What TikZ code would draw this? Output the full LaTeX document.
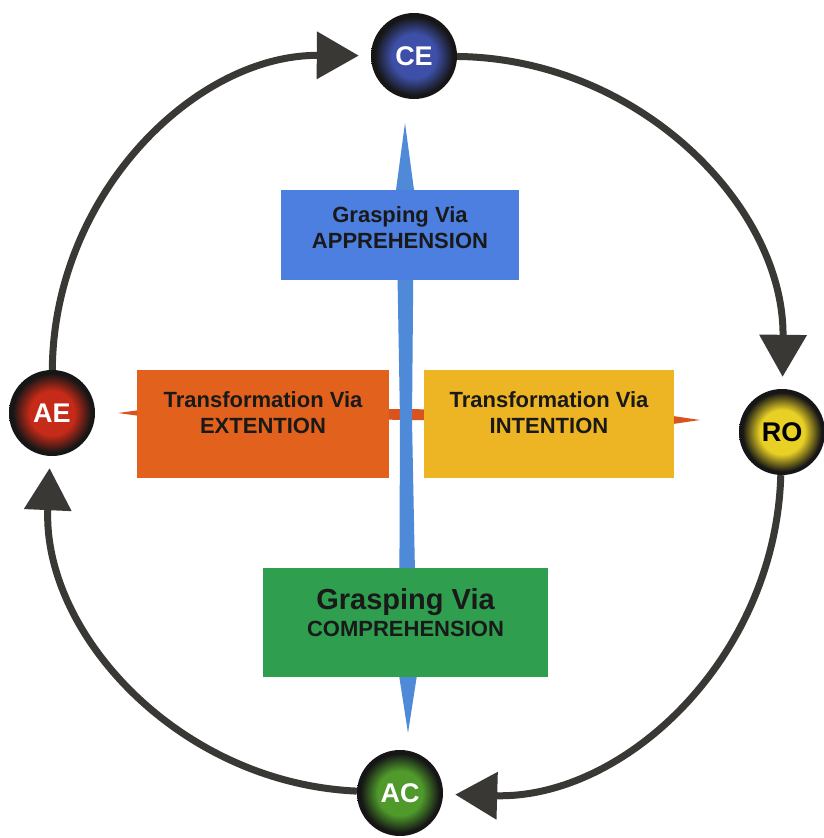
\documentclass[tikz,border=0pt]{standalone}
\usepackage{fontspec}
\setmainfont{Liberation Sans}
\usetikzlibrary{arrows.meta,positioning}
\definecolor{boxBlue}{HTML}{4D7FE0}
\definecolor{boxOrange}{HTML}{E2621D}
\definecolor{boxYellow}{HTML}{EDB423}
\definecolor{boxGreen}{HTML}{2F9E4F}
\definecolor{spikeBlue}{HTML}{4F8AD8}
\definecolor{spikeOrange}{HTML}{D9531E}
\definecolor{ringGray}{HTML}{3A3835}
\definecolor{ballRim}{HTML}{161616}
\definecolor{ceIn}{HTML}{3D4FA6}
\definecolor{aeIn}{HTML}{C62A18}
\definecolor{roIn}{HTML}{E9D024}
\definecolor{acIn}{HTML}{4F9A2B}
% radial shadings: the middle 50bp square is fitted to the ball
\pgfdeclareradialshading{ballCE}{\pgfpoint{0bp}{0bp}}{color(0bp)=(ceIn); color(13bp)=(ceIn); color(23bp)=(ballRim); color(50bp)=(ballRim)}
\pgfdeclareradialshading{ballAE}{\pgfpoint{0bp}{0bp}}{color(0bp)=(aeIn); color(13bp)=(aeIn); color(23bp)=(ballRim); color(50bp)=(ballRim)}
\pgfdeclareradialshading{ballRO}{\pgfpoint{0bp}{0bp}}{color(0bp)=(roIn); color(13bp)=(roIn); color(23bp)=(ballRim); color(50bp)=(ballRim)}
\pgfdeclareradialshading{ballAC}{\pgfpoint{0bp}{0bp}}{color(0bp)=(acIn); color(13bp)=(acIn); color(23bp)=(ballRim); color(50bp)=(ballRim)}
\begin{document}
\begin{tikzpicture}[x=1pt,y=1pt,
  box/.style={rectangle,draw=none,inner sep=0pt},
  boxtext/.style={align=center,text=black!90,font=\fontsize{22}{26}\selectfont\bfseries},
  ball/.style={circle,inner sep=0pt,minimum size=86pt,text=white,font=\fontsize{27}{27}\selectfont\bfseries},
  ring/.style={line width=7pt,draw=ringGray,-{Triangle[length=42pt,width=46pt]},shorten >=12pt}]
\useasboundingbox[fill=white] (0,0) rectangle (823,-838);

% spikes behind the boxes
\fill[spikeOrange] (118,-413) -- (140,-410) -- (410,-409) -- (673,-416) -- (700,-420)
  -- (673,-424) -- (410,-420) -- (140,-416) -- cycle;
\fill[spikeBlue] (405,-123) -- (414,-190) -- (412,-420) -- (417,-675) -- (408,-733)
  -- (399,-675) -- (400,-420) -- (396,-190) -- cycle;

% the four boxes
\node[box,fill=boxBlue,minimum width=238pt,minimum height=90pt,
  label={[boxtext,yshift=7pt]center:{Grasping Via\\APPREHENSION}}] (app) at (400,-235) {};
\node[box,fill=boxOrange,minimum width=252pt,minimum height=108pt,
  label={[boxtext,yshift=11pt]center:{Transformation Via\\EXTENTION}}] (ext) at (263,-424) {};
\node[box,fill=boxYellow,minimum width=250pt,minimum height=108pt,
  label={[boxtext,yshift=11pt]center:{Transformation Via\\INTENTION}}] (int) at (549,-424) {};
\node[box,fill=boxGreen,minimum width=285pt,minimum height=109pt,
  label={[boxtext,yshift=10pt]center:{{\fontsize{29}{30}\selectfont Grasping Via}\\[1pt]{\fontsize{22}{26}\selectfont COMPREHENSION}}}] (comp) at (405.5,-622.5) {};

% the cycle
\node[ball,shading=ballCE] (CE) at (414,-56) {CE};
\node[ball,shading=ballRO,text=black] (RO) at (782,-432) {RO};
\node[ball,shading=ballAC] (AC) at (400,-793) {AC};
\node[ball,shading=ballAE] (AE) at (52,-413) {AE};

\draw[ring] (CE) to[bend left=45] (RO);
\draw[ring] (RO) to[bend left=45] (AC);
\draw[ring] (AC) to[bend left=45] (AE);
\draw[ring] (AE) to[bend left=45] (CE);
\end{tikzpicture}
\end{document}
